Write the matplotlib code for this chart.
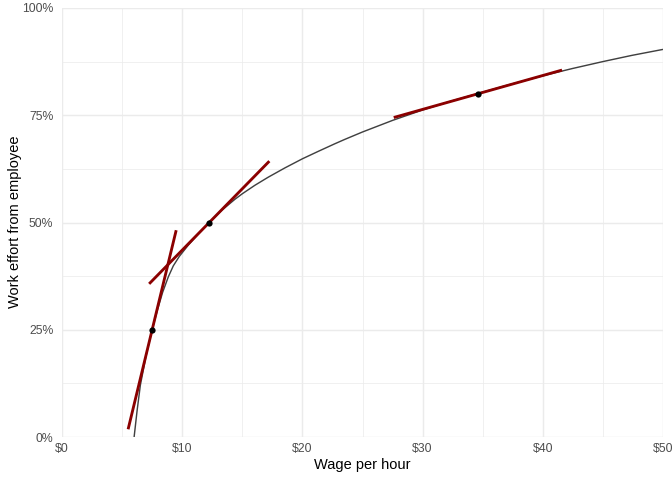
import matplotlib
matplotlib.use("Agg")
import matplotlib.pyplot as plt
import numpy as np

# Effort curve, values
wage = [6.0, 6.25, 6.52, 7.0, 7.5, 7.96, 8.37, 8.84, 9.26, 9.76, 10.5, 11.3, 12.25,
        13.3, 14.39, 15.0, 16.05, 17.15, 18.54, 20.0, 21.3, 22.68, 23.5, 25.0,
        27.5, 30.0, 32.3, 34.6, 37.0, 40.0, 42.43, 45.0, 47.4, 50.0]
effort = [0.0, 0.062, 0.121, 0.190, 0.25, 0.298, 0.337, 0.373, 0.399, 0.421, 0.447, 0.472, 0.5,
          0.5286, 0.5542, 0.567, 0.5868, 0.6055, 0.6272, 0.6485, 0.6656, 0.6833, 0.6934, 0.711,
          0.738, 0.7623, 0.7823, 0.8007, 0.8197, 0.8419, 0.8587, 0.8751, 0.8895, 0.9035]

# Tangent points, slopes and half-widths of the tangent segments
pt_wage = [7.5, 12.25, 34.6]
pt_effort = [0.25, 0.5, 0.8]
pt_slope = [0.116, 0.0286, 0.0079]
pt_halfwidth = [2.0, 5.0, 7.0]

x_ticks = [0, 10, 20, 30, 40, 50]
x_labels = ["$0", "$10", "$20", "$30", "$40", "$50"]
y_ticks = [0, 0.25, 0.5, 0.75, 1.0]
y_labels = ["0%", "25%", "50%", "75%", "100%"]

plt.rcParams['font.family'] = ['Liberation Sans', 'DejaVu Sans']

fig = plt.figure(figsize=(7, 5), dpi=96)
ax = fig.add_axes([62/672, 1-437/480, (663-62)/672, (437-8)/480])

ax.plot(wage, effort, color="#404040", lw=1.07, zorder=3,
        solid_capstyle='butt', solid_joinstyle='round')

for w, e, s, h in zip(pt_wage, pt_effort, pt_slope, pt_halfwidth):
    xs = np.array([w - h, w + h])
    ys = e + s * (xs - w)
    ax.plot(xs, ys, color="darkred", lw=2.13, zorder=4, solid_capstyle='butt')

ax.scatter(pt_wage, pt_effort, s=22, color="black", zorder=5, linewidths=0)

ax.set_xlim(0, 50)
ax.set_ylim(0, 1)
ax.set_xticks(x_ticks)
ax.set_xticklabels(x_labels)
ax.set_yticks(y_ticks)
ax.set_yticklabels(y_labels)
ax.set_xticks([5, 15, 25, 35, 45], minor=True)
ax.set_yticks([0.125, 0.375, 0.625, 0.875], minor=True)

ax.grid(which='major', color="#EBEBEB", lw=1.07)
ax.grid(which='minor', color="#EBEBEB", lw=0.53)
ax.set_axisbelow(True)
for sp in ax.spines.values():
    sp.set_visible(False)
ax.tick_params(which='both', length=0, labelsize=9.2, labelcolor="#4D4D4D")
ax.tick_params(axis='x', pad=4.5)
ax.tick_params(axis='y', pad=6.5)

ax.set_xlabel("Wage per hour", fontsize=11, color="black")
ax.set_ylabel("Work effort from employee", fontsize=11, color="black")
ax.xaxis.set_label_coords((362 - 62) / 601, (437 - 465) / 429)
ax.xaxis.label.set_va('center')
ax.yaxis.set_label_coords((15 - 62) / 601, (437 - 222) / 429)
ax.yaxis.label.set_va('center')

fig.savefig("out.png", dpi=96, facecolor="white")
